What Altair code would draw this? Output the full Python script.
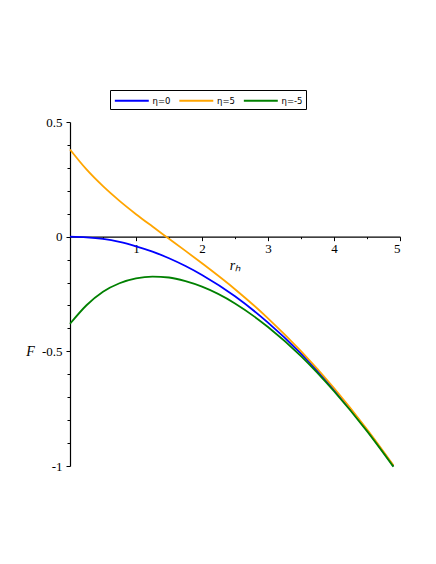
import altair as alt
import pandas as pd

# data
r_vals = [0, 0.25, 0.5, 0.75, 1.0, 1.25, 1.5, 1.75, 2.0, 2.5, 3.0, 3.5, 4.0, 4.5, 4.9]
f_eta0 = [0.0, -0.003, -0.010, -0.023, -0.042, -0.065, -0.094, -0.128, -0.167, -0.260, -0.375, -0.510, -0.667, -0.844, -1.0]
f_eta5 = [0.380, 0.293, 0.220, 0.156, 0.098, 0.044, -0.009, -0.062, -0.116, -0.229, -0.356, -0.499, -0.660, -0.840, -0.997]
f_etam5 = [-0.380, -0.299, -0.240, -0.203, -0.182, -0.174, -0.178, -0.194, -0.218, -0.291, -0.394, -0.521, -0.674, -0.848, -1.003]

series_names = ["η=0", "η=5", "η=-5"]
series_colors = ["#0000FF", "#FFA500", "#008000"]

x_major = [1, 2, 3, 4, 5]
x_ticks = [0.5, 1, 1.5, 2, 2.5, 3, 3.5, 4, 4.5, 5]
y_major = [-1, -0.5, 0, 0.5]
y_ticks = [-1, -0.9, -0.8, -0.7, -0.6, -0.5, -0.4, -0.3, -0.2, -0.1, 0, 0.1, 0.2, 0.3, 0.4, 0.5]

rows = []
for name, vals in zip(series_names, [f_eta0, f_eta5, f_etam5]):
    for r, f in zip(r_vals, vals):
        rows.append({"r": r, "F": f, "series": name})
df = pd.DataFrame(rows)

W, H = 330, 344
zero_off = -(H * 1.0 / 1.5)  # move x axis up to F = 0

x_major_js = "[" + ",".join(str(v) for v in x_major) + "]"
y_major_js = "[" + ",".join(str(v) for v in y_major) + "]"

SERIF = "Liberation Serif"

x_axis = alt.Axis(
    values=x_ticks,
    offset=zero_off,
    domainColor="black",
    domainWidth=1.2,
    tickColor="black",
    tickSize={"condition": {"test": f"indexof({x_major_js}, datum.value) >= 0", "value": 4}, "value": 2},
    labelExpr=f"indexof({x_major_js}, datum.value) >= 0 ? format(datum.value, '~g') : ''",
    labelFont=SERIF,
    labelFontSize=13,
    labelColor="black",
    labelPadding=2,
    grid=False,
    title="rₕ",
    titleFont=SERIF,
    titleFontStyle="italic",
    titleFontWeight="normal",
    titleFontSize=14,
    titleColor="black",
    titleX=165,
    titleY=29,
    titleAlign="center",
    titleBaseline="middle",
)

y_axis = alt.Axis(
    values=y_ticks,
    domainColor="black",
    domainWidth=1.2,
    tickColor="black",
    tickSize={"condition": {"test": f"indexof({y_major_js}, datum.value) >= 0", "value": 4}, "value": 3},
    labelExpr=f"indexof({y_major_js}, datum.value) >= 0 ? (datum.value < 0 ? '-' : '') + format(abs(datum.value), '~g') : ''",
    labelFont=SERIF,
    labelFontSize=13,
    labelColor="black",
    labelPadding=4,
    grid=False,
    title="F",
    titleFont=SERIF,
    titleFontStyle="italic",
    titleFontWeight="normal",
    titleFontSize=14,
    titleColor="black",
    titleAngle=0,
    titleX=-40,
    titleY=229,
    titleAlign="center",
    titleBaseline="middle",
)

# stroke symbol drawn wider than its layout box so the legend stays short
sym_path = "M-1,0H5"

chart = alt.Chart(df).mark_line(strokeWidth=1.8, interpolate="monotone").encode(
    x=alt.X("r:Q", scale=alt.Scale(domain=[0, 5], nice=False, zero=False), axis=x_axis),
    y=alt.Y("F:Q", scale=alt.Scale(domain=[-1, 0.5], nice=False, zero=False), axis=y_axis),
    color=alt.Color(
        "series:N",
        scale=alt.Scale(domain=series_names, range=series_colors),
        sort=series_names,
        legend=alt.Legend(
            title=None,
            orient="none",
            legendX=40,
            legendY=-32,
            direction="horizontal",
            symbolType=sym_path,
            symbolSize=128,
            symbolStrokeWidth=2,
            symbolFillColor="transparent",
            labelFont="DejaVu Sans",
            labelFontSize=8.5,
            labelColor="black",
            labelOffset=25,
            columnPadding=4.5,
            strokeColor="black",
            padding=3.5,
            cornerRadius=0,
        ),
    ),
).properties(
    width=W,
    height=H,
    background="white",
    autosize=alt.AutoSizeParams(type="none"),
    padding={"left": 62, "top": 114, "right": 28, "bottom": 90},
).configure_view(stroke=None)

chart.save("out.html", embed_options={"renderer": "svg", "actions": False})
